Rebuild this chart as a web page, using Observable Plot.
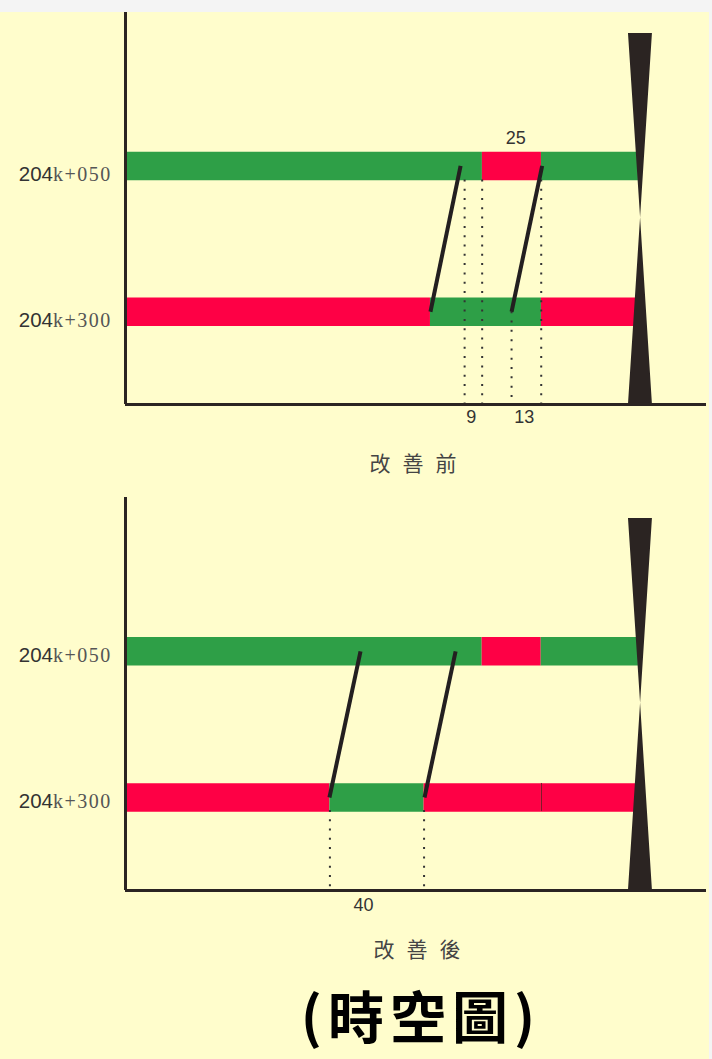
<!DOCTYPE html>
<html>
<head>
<meta charset="utf-8">
<script src="https://cdn.jsdelivr.net/npm/d3@7"></script>
<script src="https://cdn.jsdelivr.net/npm/@observablehq/plot@0.6"></script>
<style>
  html, body { margin: 0; padding: 0; background: #f4f4f4; }
  #page { position: relative; width: 709px; height: 1047px; margin-top: 12px; background: #fffdcc; overflow: hidden; }
  .fig { position: absolute; left: 0; }
  .cap { position: absolute; transform: translate(-50%, -50%); white-space: nowrap;
         font-family: "Noto Sans CJK TC", sans-serif; }
  .sub { font-size: 21px; letter-spacing: 12px; padding-left: 12px; color: #444; }
  .big { font-size: 56px; font-weight: 700; letter-spacing: 6px; padding-left: 6px; color: #000; }
  g[font-family="Liberation Serif"] text { letter-spacing: 1.5px; }
</style>
</head>
<body>
<div id="page"></div>
<script>
// ---- data (time in seconds, distance in metres) ----
const rowNames = ["204k+050", "204k+300"];
const rowDist = [50, 300];
const xDomain = [0, 245];
const yDomain = [-213, 459];

// signal phases: [row, phase (G = green, R = red), start, end]
const beforePhases = [
  ["204k+050", "G", 0, 150.5], ["204k+050", "R", 150.5, 175.4], ["204k+050", "G", 175.4, 216.3],
  ["204k+300", "R", 0, 128.6], ["204k+300", "G", 128.6, 175.4], ["204k+300", "R", 175.4, 215.1]
];
const afterPhases = [
  ["204k+050", "G", 0, 150.4], ["204k+050", "R", 150.4, 175.3], ["204k+050", "G", 175.3, 216.3],
  ["204k+300", "R", 0, 86.2], ["204k+300", "G", 86.2, 125.9], ["204k+300", "R", 125.9, 175.4],
  ["204k+300", "R", 175.4, 215.1]
];
// vehicle trajectories: [time at 204k+050, time at 204k+300]
const beforeTrips = [[141.3, 128.6], [175.7, 162.8]];
const afterTrips = [[99.1, 86.0], [139.2, 126.1]];
// dotted guides: [time, starting distance]
const beforeGuides = [[143.0, 74], [150.4, 74], [162.8, 300], [175.3, 74]];
const afterGuides = [[86.2, 322], [125.9, 322]];
// annotations: [label, time, where]
const beforeNotes = [["25", 164.6, "top"], ["9", 145.8, "bottom"], ["13", 168.2, "bottom"]];
const afterNotes = [["40", 100.4, "bottom"]];
// stop-line hourglass: [distance, left time, right time]
const stopMark = [[-177, 212.1, 222.2], [139, 217.2, 217.2], [459, 212.1, 222.2]];

const ink = "#2b2422";

function chart(phases, trips, guides, notes, o) {
  const dist = Object.fromEntries(rowNames.map((r, i) => [r, rowDist[i]]));
  const rows = rowNames.map((name, i) => ({name, dist: rowDist[i]}));
  const bars = phases.map(([row, phase, start, end]) => ({dist: dist[row], phase, start, end}));
  const dividers = bars.filter((b, i) => i > 0 && bars[i - 1].dist === b.dist && bars[i - 1].phase === b.phase)
                       .map(b => ({t: b.start, dist: b.dist}));
  const tripData = trips.map(([t1, t2]) => ({t1, t2, d1: rowDist[0], d2: rowDist[1]}));
  const guideData = guides.map(([t, from]) => ({t, from}));
  const noteData = notes.map(([label, t, where]) => ({label, t, where}));
  const hg = stopMark.map(([d, l, r]) => ({d, l, r}));
  const yMax = yDomain[1];
  return Plot.plot({
    width: 709, height: o.height,
    marginLeft: 125, marginRight: 3, marginTop: o.marginTop, marginBottom: o.marginBottom,
    x: {domain: xDomain, axis: null},
    y: {domain: yDomain, reverse: true, axis: null},
    color: {domain: ["G", "R"], range: ["#2e9f47", "#fe0045"]},
    style: {background: "transparent", overflow: "visible"},
    marks: [
      Plot.ruleY(bars, {y: "dist", x1: "start", x2: "end", stroke: "phase", strokeWidth: 28.5}),
      Plot.ruleX(dividers, {x: "t", y1: d => d.dist - 24, y2: d => d.dist + 24, stroke: "#7a1a28", strokeWidth: 1}),
      Plot.ruleX(guideData, {x: "t", y1: "from", y2: () => yMax, stroke: "#333", strokeWidth: 2, strokeDasharray: "2 7.3"}),
      Plot.link(tripData, {x1: "t1", y1: "d1", x2: "t2", y2: "d2", stroke: "#231f20", strokeWidth: 4}),
      Plot.areaX(hg, {y: "d", x1: "l", x2: "r", fill: ink}),
      Plot.ruleX([0], {stroke: ink, strokeWidth: 3}),
      Plot.ruleY([yMax], {stroke: ink, strokeWidth: 3}),
      Plot.text(rows, {y: "dist", text: d => d.name.slice(0, 3), frameAnchor: "left", textAnchor: "end",
        dx: -72.5, dy: o.labelDy, fontSize: 20.5, fontFamily: "Liberation Sans", fill: "#333"}),
      Plot.text(rows, {y: "dist", text: d => d.name.slice(3), frameAnchor: "left", textAnchor: "start",
        dx: -72.5, dy: o.labelDy, fontSize: 20, fontFamily: "Liberation Serif", fill: "#555"}),
      Plot.text(noteData.filter(d => d.where === "top"), {x: "t", y: () => rowDist[0], text: "label",
        dy: -28, fontSize: 18, fontFamily: "Liberation Sans", fill: "#333"}),
      Plot.text(noteData.filter(d => d.where === "bottom"), {x: "t", text: "label", frameAnchor: "bottom",
        dy: o.noteDy, fontSize: 18, fontFamily: "Liberation Sans", fill: "#333"})
    ]
  });
}

const page = document.getElementById("page");
function place(el, top) { el.classList.add("fig"); el.style.top = top + "px"; page.appendChild(el); }
function caption(text, cls, cx, cy) {
  const d = document.createElement("div");
  d.className = "cap " + cls;
  d.textContent = text;
  d.style.left = cx + "px"; d.style.top = cy + "px";
  page.appendChild(d);
}

place(chart(beforePhases, beforeTrips, beforeGuides, beforeNotes,
  {height: 430, marginTop: 0, marginBottom: 38, labelDy: 9, noteDy: 18}), 0);
caption("改善前", "sub", 413, 450);
place(chart(afterPhases, afterTrips, afterGuides, afterNotes,
  {height: 440, marginTop: 15, marginBottom: 32, labelDy: 4, noteDy: 20}), 470);
caption("改善後", "sub", 417, 936);
caption("(時空圖)", "big", 418, 1001);
</script>
</body>
</html>
